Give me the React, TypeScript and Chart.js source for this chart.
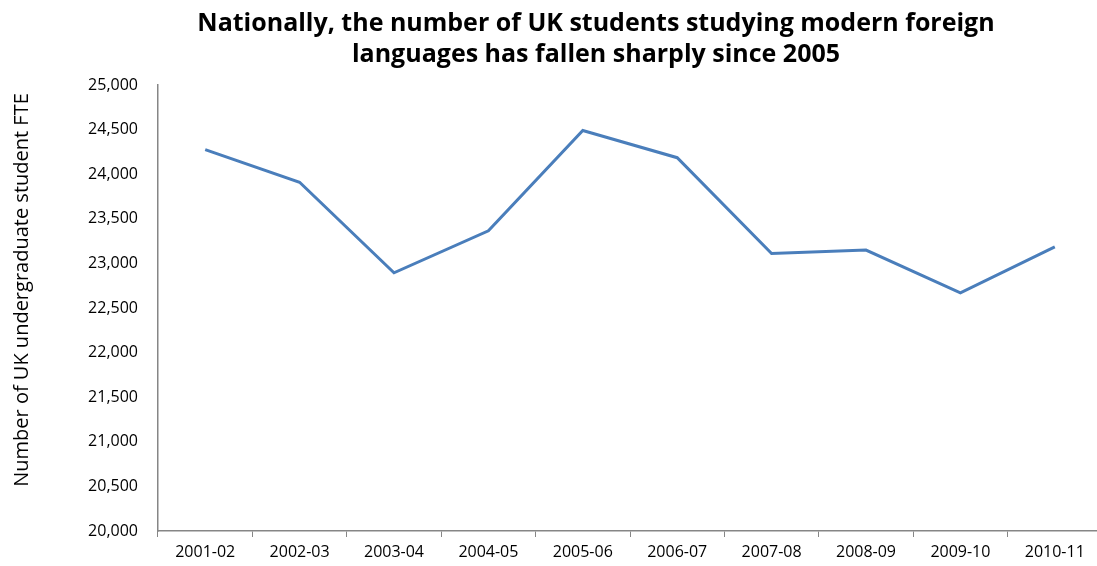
import React, { useEffect, useRef } from "react";
import { Chart, registerables } from "chart.js";

Chart.register(...registerables);

const categories = ["2001-02", "2002-03", "2003-04", "2004-05", "2005-06", "2006-07", "2007-08", "2008-09", "2009-10", "2010-11"];
const studentFTE = [24275, 23910, 22895, 23365, 24490, 24185, 23110, 23150, 22670, 23185];
const titleLines = ["Nationally, the number of UK students studying modern foreign", "languages has fallen sharply since 2005"];
const yAxisTitle = "Number of UK undergraduate student FTE";

const FONT = "'Open Sans', 'Noto Sans', sans-serif";

const textPlugin = {
  id: "customText",
  afterDraw(chart: any) {
    const c = chart.ctx;
    c.save();
    c.fillStyle = "#000";
    c.font = `bold 25px ${FONT}`;
    c.textAlign = "center";
    c.textBaseline = "middle";
    c.fillText(titleLines[0], 596, 24);
    c.fillText(titleLines[1], 596, 55);
    c.translate(22, 290);
    c.rotate(-Math.PI / 2);
    c.font = `20px ${FONT}`;
    c.fillText(yAxisTitle, 0, 0);
    c.restore();
  },
};

export default function App() {
  const ref = useRef<HTMLCanvasElement | null>(null);
  useEffect(() => {
    document.body.style.overflow = "hidden";
    const ctx = ref.current!;
    const chart = new Chart(ctx, {
      type: "line",
      data: {
        labels: categories,
        datasets: [
          {
            data: studentFTE,
            borderColor: "#4a7ebb",
            borderWidth: 3,
            pointRadius: 0,
            tension: 0,
            fill: false,
          },
        ],
      },
      options: {
        responsive: false,
        animation: false,
        maintainAspectRatio: false,
        layout: { padding: { top: 85, right: 8, bottom: 0, left: 0 } },
        plugins: {
          legend: { display: false },
          tooltip: { enabled: false },
          title: { display: false },
        },
        scales: {
          x: {
            type: "category",
            offset: true,
            grid: {
              display: true,
              offset: true,
              drawOnChartArea: false,
              drawTicks: true,
              tickLength: 6,
              color: "#868686",
            },
            border: { display: true, color: "#868686", width: 1.5 },
            ticks: {
              color: "#000",
              font: { family: FONT, size: 16 },
              maxRotation: 0,
              padding: 6,
            },
            afterFit: (scale: any) => {
              scale.height = 35;
            },
          },
          y: {
            min: 20000,
            max: 25000,
            grid: { display: false, drawTicks: false },
            border: { display: true, color: "#868686", width: 1.5 },
            ticks: {
              stepSize: 500,
              color: "#000",
              font: { family: FONT, size: 16 },
              padding: 20,
              callback: (v: any) => Number(v).toLocaleString("en-US"),
            },
            title: { display: false },
            afterFit: (scale: any) => {
              scale.width = 158;
            },
          },
        },
      },
      plugins: [textPlugin],
    });
    return () => chart.destroy();
  }, []);
  return (
    <div style={{ position: "fixed", left: 0, top: 0, width: 1097, height: 566, overflow: "hidden", background: "#fff" }}>
      <canvas ref={ref} width={1110} height={566} style={{ display: "block" }} />
    </div>
  );
}
